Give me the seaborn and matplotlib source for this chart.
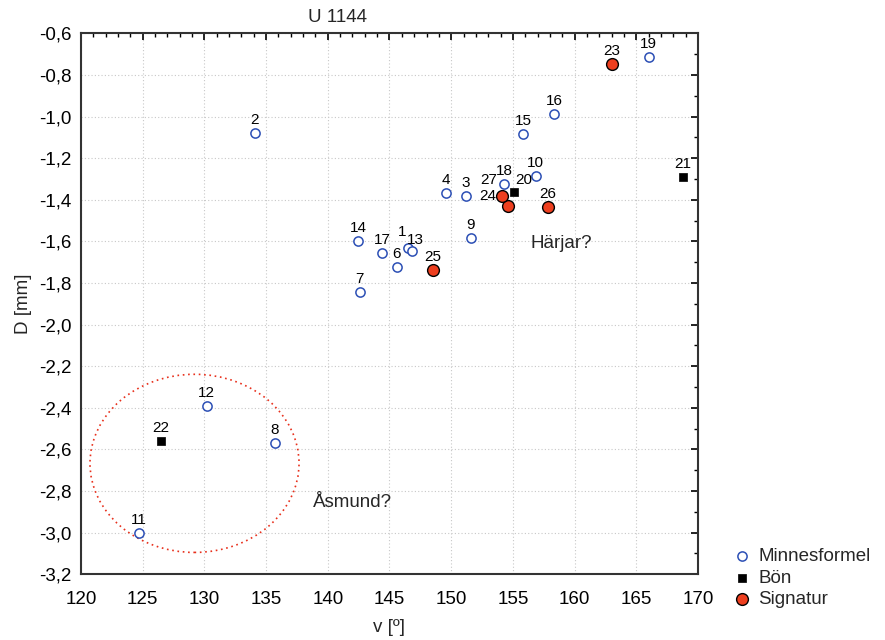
import matplotlib
matplotlib.use("Agg")
import matplotlib.pyplot as plt
import seaborn as sns
import pandas as pd
import numpy as np
from matplotlib.patches import Ellipse
from matplotlib.ticker import MultipleLocator, FuncFormatter

# ---- data ----
minnes_ids = ["1", "2", "3", "4", "6", "7", "8", "9", "10", "11", "12", "13", "14", "15", "16", "17", "18", "19"]
minnes_v = [146.5, 134.1, 151.2, 149.55, 145.6, 142.6, 135.7, 151.6, 156.85, 124.7, 130.2, 146.8, 142.45, 155.85, 158.35, 144.4, 154.3, 166.0]
minnes_d = [-1.63, -1.08, -1.38, -1.37, -1.725, -1.845, -2.57, -1.585, -1.285, -3.0, -2.39, -1.645, -1.6, -1.085, -0.99, -1.655, -1.325, -0.714]

bon_ids = ["20", "21", "22"]
bon_v = [155.1, 168.8, 126.5]
bon_d = [-1.365, -1.29, -2.56]

sign_ids = ["23", "24", "25", "26", "27"]
sign_v = [163.0, 154.6, 148.5, 157.85, 154.1]
sign_d = [-0.75, -1.43, -1.74, -1.435, -1.38]

group_names = ["Minnesformel", "Bön", "Signatur"]

df = pd.DataFrame({
    "id": minnes_ids + bon_ids + sign_ids,
    "v": minnes_v + bon_v + sign_v,
    "D": minnes_d + bon_d + sign_d,
    "grupp": [group_names[0]] * len(minnes_ids) + [group_names[1]] * len(bon_ids) + [group_names[2]] * len(sign_ids),
})

# ---- figure ----
sns.set_style("white")
plt.rcParams["font.family"] = ["Liberation Sans", "DejaVu Sans"]

fig = plt.figure(figsize=(8.85, 6.4), dpi=100)
ax = fig.add_axes([0.0915, 0.1027, 0.6972, 0.8453])

styles = {
    "Minnesformel": dict(marker="o", color="white", edgecolor="#2c4fb5", s=44, linewidth=1.1),
    "Bön": dict(marker="s", color="black", edgecolor="black", s=40, linewidth=0.5),
    "Signatur": dict(marker="o", color="#ee3f1f", edgecolor="black", s=72, linewidth=1.0),
}
for g in group_names:
    sub = df[df["grupp"] == g]
    sns.scatterplot(data=sub, x="v", y="D", ax=ax, label=g, zorder=5, **styles[g])

# point labels
special = {"27": (-13, 16), "24": (-20, 10), "20": (10, 12), "1": (-6, 16), "13": (4, 11)}
for _, r in df.iterrows():
    off = special.get(r["id"], (0, 13))
    ax.annotate(r["id"], (r["v"], r["D"]), xytext=off, textcoords="offset pixels",
                ha="center", va="center", fontsize=11, color="black", zorder=6)

# ellipse
ell = Ellipse((129.2, -2.667), 16.94, 0.856, fill=False, edgecolor="#e8301c",
              linestyle=(0, (1, 2.2)), linewidth=1.2, zorder=3)
ax.add_patch(ell)

ax.text(156.4, -1.608, "Härjar?", fontsize=13.5, va="center", ha="left")
ax.text(138.8, -2.853, "Åsmund?", fontsize=13.5, va="center", ha="left")

ax.set_xlim(120, 170)
ax.set_ylim(-3.2, -0.6)
ax.xaxis.set_major_locator(MultipleLocator(5))
ax.xaxis.set_minor_locator(MultipleLocator(1))
ax.yaxis.set_major_locator(MultipleLocator(0.2))
ax.yaxis.set_minor_locator(MultipleLocator(0.1))
ax.yaxis.set_major_formatter(FuncFormatter(lambda y, p: f"{y:.1f}".replace(".", ",")))
ax.xaxis.set_major_formatter(FuncFormatter(lambda x, p: f"{x:.0f}"))

ax.tick_params(which="both", direction="in", top=True, right=True, labelsize=13.5, colors="black")
ax.tick_params(which="major", length=5, width=1.2)
ax.tick_params(which="minor", length=3, width=1.0)
ax.tick_params(axis="x", which="major", pad=12)
ax.tick_params(axis="y", which="major", pad=7)
ax.grid(True, which="major", color="#c8c8c8", linestyle=(0, (1, 2)), linewidth=0.8)
for sp in ax.spines.values():
    sp.set_color("#333333")
    sp.set_linewidth(1.5)
    sp.set_visible(True)

ax.set_xlabel("v [º]", fontsize=13.5, labelpad=8)
ax.set_ylabel("D [mm]", fontsize=13.5, labelpad=5)

fig.text(337 / 885, 1 - 17 / 640, "U 1144", ha="center", va="center", fontsize=13.5)

handles, labels = ax.get_legend_handles_labels()
if ax.legend_:
    ax.legend_.remove()
fig.legend(handles, labels, loc="center left", bbox_to_anchor=(721 / 885, 1 - 578 / 640),
           frameon=False, fontsize=13.5, handletextpad=0.3, labelspacing=0.22,
           borderpad=0, handlelength=1.2)

fig.savefig("out.png", dpi=100)
